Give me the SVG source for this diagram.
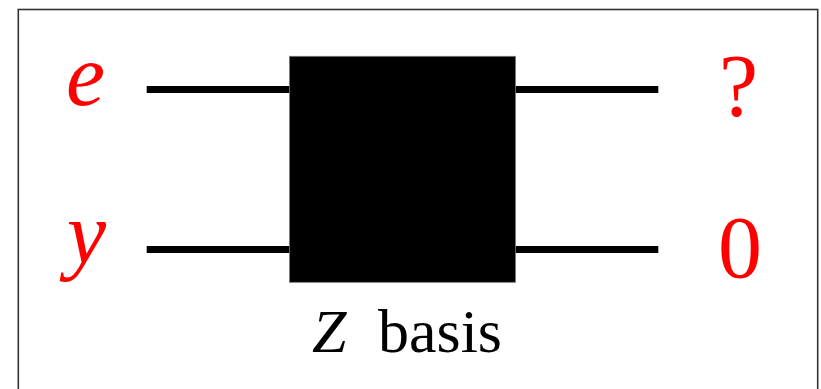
<svg xmlns="http://www.w3.org/2000/svg" width="821" height="389" viewBox="0 0 821 389">
  <style>
    .frame { fill: #fff; stroke: #333; stroke-width: 1.6; }
    .wire { stroke: #000; stroke-width: 7; fill: none; }
    .gate { fill: #000; stroke: #777; stroke-width: 0.8; }
    .lbl { fill: #f00; font-size: 88px; }
    .cap { fill: #000; font-size: 62px; }
  </style>
  <!-- outer frame (bottom edge runs off the canvas) -->
  <rect class="frame" x="18.3" y="9.5" width="799.4" height="400"/>
  <g id="connectors">
    <line class="wire" x1="146.7" y1="89.5" x2="290" y2="89.5"/>
    <line class="wire" x1="146.7" y1="249.5" x2="290" y2="249.5"/>
    <line class="wire" x1="515" y1="89.5" x2="658.3" y2="89.5"/>
    <line class="wire" x1="515" y1="249.5" x2="658.3" y2="249.5"/>
  </g>
  <g font-family="Liberation Serif">
    <g id="gate">
      <rect class="gate" x="289.5" y="56.3" width="226" height="226"/>
      <text class="cap" x="312" y="351.7"><tspan font-style="italic">Z</tspan><tspan x="378">basis</tspan></text>
    </g>
    <g id="in-e"><text class="lbl" font-style="italic" x="66" y="105">e</text></g>
    <g id="in-y"><text class="lbl" font-style="italic" x="67" y="263">y</text></g>
    <g id="out-q"><text class="lbl" x="719" y="115">?</text></g>
    <g id="out-0"><text class="lbl" x="718" y="277">0</text></g>
  </g>
</svg>
